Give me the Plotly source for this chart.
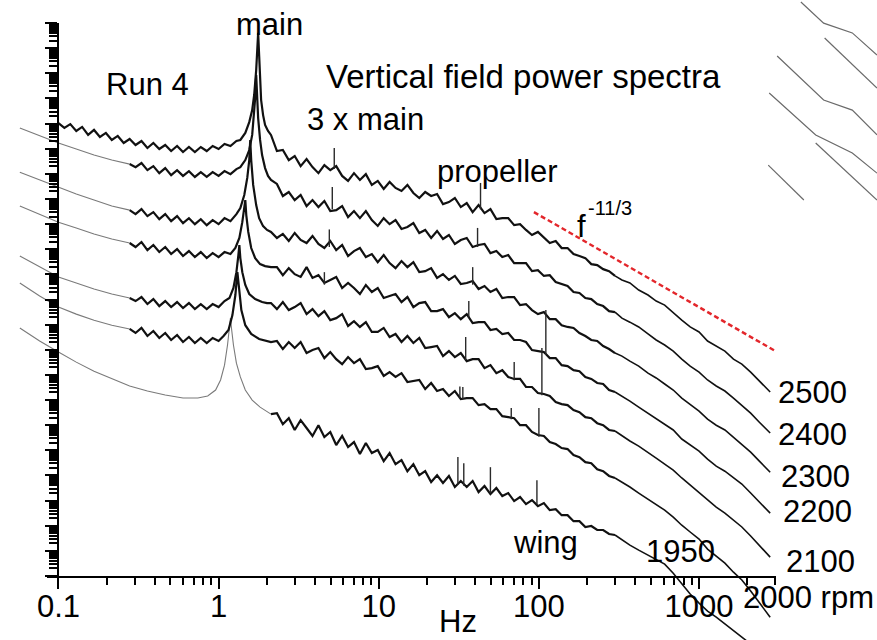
import plotly.graph_objects as go

# ---------------- data (frequency in Hz, level = log10 of power, arbitrary offset per run) ----
FREQ_HI = [2.124, 2.313, 2.519, 2.743, 2.987, 3.253, 3.543, 3.858, 4.201, 4.575, 4.982, 5.425,
           5.908, 6.433, 7.005, 7.628, 8.307, 9.054, 9.859, 10.74, 11.69, 12.73, 13.87, 15.10,
           16.45, 17.91, 19.50, 21.24, 23.13, 25.19, 27.43, 29.87, 32.53, 35.43, 38.58, 42.01,
           45.75, 49.82, 54.25, 59.08, 64.33, 70.05, 76.28, 83.07, 90.54, 98.59, 107.4, 116.9,
           127.3, 138.7, 151.0, 164.5, 179.1, 195.0, 212.4, 231.3, 251.9, 274.3, 298.7,
           330, 370, 420, 480, 540, 610, 690, 780, 880, 1000, 1130, 1280, 1450, 1640, 1850,
           2100, 2380, 2600, 2780]

A_HI = [17.56, 16.92, 16.96, 16.56, 16.72, 16.32, 16.60, 16.28, 16.04, 16.36, 16.16, 16.32, 15.93,
        15.73, 16.04, 15.77, 16.00, 15.57, 15.73, 15.41, 15.69, 15.45, 15.33, 15.57, 15.25, 15.05,
        15.29, 15.13, 15.21, 14.81, 14.89, 15.05, 14.69, 14.85, 14.49, 14.77, 14.45, 14.61, 14.21,
        14.25, 14.25, 13.97, 14.01, 13.78, 13.58, 13.70, 13.46, 13.26, 13.34, 13.06, 13.06, 12.82,
        12.74, 12.66, 12.42, 12.38, 12.22, 12.14, 11.95,
        11.79, 11.67, 11.39, 11.19, 10.95, 10.79, 10.47, 10.19, 9.92, 9.72, 9.36, 9.16, 8.96, 8.64,
        8.44, 8.12, 7.77, 7.53, 7.33]
B_HI = [15.77, 15.61, 15.13, 15.29, 14.97, 15.17, 14.73, 14.97, 14.69, 14.93, 14.53, 14.57, 14.73,
        14.29, 14.53, 14.25, 14.53, 14.17, 13.94, 14.25, 14.01, 14.17, 13.82, 13.90, 14.05, 13.66,
        13.78, 13.46, 13.74, 13.42, 13.58, 13.22, 13.38, 13.46, 13.10, 13.18, 13.22, 12.86, 12.94,
        12.70, 12.78, 12.46, 12.46, 12.46, 12.14, 12.18, 11.95, 11.98, 11.71, 11.63, 11.55, 11.31,
        11.27, 11.07, 11.03, 10.83, 10.75, 10.55, 10.51,
        10.27, 10.11, 9.92, 9.64, 9.40, 9.20, 8.96, 8.64, 8.36, 8.12, 7.81, 7.57, 7.37, 7.09, 6.81,
        6.49, 6.13, 5.90, 5.70]
C_HI = [13.70, 13.46, 13.62, 13.34, 13.66, 13.38, 13.26, 13.54, 13.22, 13.06, 13.34, 12.98, 13.18,
        12.74, 12.94, 13.06, 12.70, 12.82, 12.50, 12.78, 12.46, 12.26, 12.54, 12.30, 12.50, 12.10,
        12.14, 12.26, 11.87, 12.02, 11.79, 11.95, 11.63, 11.67, 11.75, 11.43, 11.55, 11.31, 11.43,
        11.07, 11.11, 11.11, 10.79, 10.83, 10.59, 10.43, 10.51, 10.23, 10.23, 9.99, 9.92, 9.88,
        9.68, 9.56, 9.40, 9.36, 9.16, 9.04, 8.88,
        8.76, 8.56, 8.36, 8.08, 7.89, 7.65, 7.41, 7.09, 6.85, 6.57, 6.25, 6.01, 5.82, 5.54, 5.26,
        4.94, 4.58, 4.34, 4.14]
D_HI = [12.30, 12.30, 11.98, 12.26, 12.02, 11.91, 12.30, 11.87, 11.98, 11.67, 11.79, 11.91, 11.47,
        11.67, 11.47, 11.23, 11.59, 11.31, 11.47, 11.07, 11.15, 11.23, 10.91, 11.11, 10.71, 10.87,
        10.91, 10.55, 10.55, 10.63, 10.31, 10.47, 10.23, 10.43, 10.07, 10.11, 10.11, 9.80, 9.84,
        9.64, 9.68, 9.40, 9.40, 9.32, 9.00, 8.96, 8.92, 8.68, 8.68, 8.40, 8.36, 8.20, 8.16, 7.93,
        7.85, 7.69, 7.65, 7.41, 7.33,
        7.17, 6.97, 6.73, 6.49, 6.29, 6.05, 5.82, 5.46, 5.22, 4.98, 4.66, 4.38, 4.18, 3.91, 3.67,
        3.31, 2.95, 2.71, 2.51]
E_HI = [10.87, 10.63, 10.91, 10.59, 10.71, 10.87, 10.43, 10.63, 10.35, 10.55, 10.19, 10.27, 10.43,
        9.96, 10.15, 9.92, 10.11, 9.72, 9.72, 9.88, 9.52, 9.64, 9.32, 9.56, 9.28, 9.48, 9.08, 9.12,
        9.16, 8.76, 8.96, 8.72, 8.88, 8.56, 8.64, 8.64, 8.28, 8.40, 8.08, 8.20, 7.93, 7.85, 7.85,
        7.53, 7.53, 7.29, 7.25, 7.17, 6.93, 6.85, 6.81, 6.61, 6.53, 6.33, 6.29, 6.09, 6.01, 5.82,
        5.78,
        5.58, 5.38, 5.18, 4.94, 4.70, 4.46, 4.22, 3.91, 3.63, 3.35, 3.03, 2.75, 2.51, 2.23, 1.96,
        1.60, 1.24, 0.96, 0.76]
F_HI = [9.32, 9.36, 9.04, 9.32, 9.08, 9.32, 8.88, 9.00, 9.08, 8.68, 8.92, 8.64, 8.44, 8.72, 8.48,
        8.64, 8.24, 8.28, 8.36, 7.97, 8.12, 7.93, 8.08, 7.73, 7.77, 7.81, 7.45, 7.69, 7.37, 7.45,
        7.17, 7.37, 7.05, 7.09, 7.09, 6.81, 6.85, 6.65, 6.65, 6.37, 6.33, 6.29, 6.01, 6.01, 5.74,
        5.62, 5.58, 5.34, 5.26, 5.10, 5.06, 4.82, 4.74, 4.54, 4.50, 4.26, 4.18, 3.99, 3.91,
        3.75, 3.55, 3.31, 3.07, 2.87, 2.63, 2.35, 2.03, 1.76, 1.48, 1.08, 0.80, 0.52, 0.16, -0.15,
        -0.59, -1.07, -1.39, -1.63]
G_HI = [6.45, 6.49, 6.05, 6.29, 5.82, 6.21, 5.90, 5.58, 6.01, 5.54, 5.74, 5.22, 5.58, 5.14, 5.34,
        4.86, 5.30, 4.90, 5.02, 4.58, 4.90, 4.46, 4.62, 4.18, 4.46, 4.02, 4.18, 3.75, 4.02, 3.71,
        3.99, 3.55, 3.79, 3.55, 3.79, 3.35, 3.59, 3.27, 3.51, 3.19, 3.31, 2.99, 3.15, 2.87, 3.03,
        2.79, 2.91, 2.63, 2.67, 2.43, 2.43, 2.19, 2.19, 1.96, 2.00, 1.84, 1.84, 1.68, 1.64,
        1.44, 1.24, 1.04, 0.84, 0.68, 0.48, 0.12, -0.31, -0.71, -1.07, -1.39, -1.63, -1.91, -2.18,
        -2.42, -2.70, -3.02, -3.22, -3.38]

# 2500 rpm low-frequency part (starts at 0.1 Hz) with the main-rotor peak
A_LO_F = [0.1, 0.1089, 0.1186, 0.1292, 0.1406, 0.1532, 0.1668, 0.1816, 0.1978, 0.2154, 0.2346,
          0.2555, 0.2783, 0.303, 0.33, 0.3594, 0.3914, 0.4262, 0.4642, 0.5055, 0.5505, 0.5995,
          0.6529, 0.711, 0.7743, 0.8432, 0.9183, 1.0, 1.089, 1.186, 1.292, 1.367, 1.468, 1.554,
          1.621, 1.668, 1.717, 1.741, 1.766, 1.791, 1.816, 1.843, 1.896, 1.951, 2.035]
A_LO_L = [18.03, 17.84, 17.99, 17.72, 17.88, 17.56, 17.76, 17.48, 17.64, 17.36, 17.52, 17.24,
          17.40, 17.16, 17.32, 17.04, 17.24, 17.00, 17.16, 16.92, 17.12, 16.88, 17.08, 16.88,
          17.08, 16.92, 17.12, 17.00, 17.20, 17.12, 17.32, 17.36, 17.64, 18.07, 18.55, 19.15,
          20.14, 20.94, 21.62, 20.74, 19.75, 18.95, 18.35, 17.96, 17.72]

# smooth very-low-frequency parts (grey)
GREY_F = [0.0574, 0.0763, 0.1, 0.1292, 0.1668, 0.2154, 0.2783]
B_GREY_L = [17.84, 17.52, 17.24, 17.00, 16.76, 16.56, 16.40]
C_GREY_L = [16.08, 15.77, 15.49, 15.21, 14.97, 14.73, 14.57]
D_GREY_L = [14.73, 14.41, 14.09, 13.86, 13.62, 13.42, 13.26]
E_GREY_L = [12.74, 12.30, 11.91, 11.67, 11.43, 11.23, 11.07]
F_GREY_L = [11.67, 11.15, 10.71, 10.43, 10.19, 9.99, 9.84]

# noisy part below ~2 Hz incl. main-rotor peak
B_MID_F = [0.2783, 0.303, 0.33, 0.3594, 0.3914, 0.4262, 0.4642, 0.5055, 0.5505, 0.5995, 0.6529,
           0.711, 0.7743, 0.8432, 0.9183, 1.0, 1.089, 1.186, 1.292, 1.367, 1.468, 1.554, 1.621,
           1.668, 1.692, 1.717, 1.741, 1.766, 1.816, 1.869, 1.951, 2.035]
B_MID_L = [16.40, 16.28, 16.44, 16.16, 16.32, 16.04, 16.24, 15.96, 16.16, 15.93, 16.12, 15.89,
           16.08, 15.89, 16.08, 15.93, 16.12, 16.00, 16.20, 16.28, 16.56, 16.96, 17.56, 18.35,
           19.03, 19.94, 19.15, 18.23, 17.36, 16.76, 16.24, 15.93]
C_MID_F = [0.2783, 0.303, 0.33, 0.3594, 0.3914, 0.4262, 0.4642, 0.5055, 0.5505, 0.5995, 0.6529,
           0.711, 0.7743, 0.8432, 0.9183, 1.0, 1.089, 1.186, 1.292, 1.367, 1.447, 1.51, 1.554,
           1.576, 1.598, 1.644, 1.717, 1.791, 1.896, 2.007]
C_MID_L = [14.57, 14.41, 14.61, 14.33, 14.49, 14.21, 14.41, 14.13, 14.33, 14.05, 14.25, 14.01,
           14.21, 13.97, 14.17, 14.01, 14.25, 14.13, 14.41, 14.65, 15.17, 15.85, 16.56, 17.36,
           16.56, 15.57, 14.77, 14.25, 13.93, 13.78]
D_MID_F = [0.2783, 0.303, 0.33, 0.3594, 0.3914, 0.4262, 0.4642, 0.5055, 0.5505, 0.5995, 0.6529,
           0.711, 0.7743, 0.8432, 0.9183, 1.0, 1.089, 1.186, 1.273, 1.348, 1.406, 1.447, 1.468,
           1.489, 1.532, 1.598, 1.692, 1.816, 1.951]
D_MID_L = [13.26, 13.10, 13.30, 12.98, 13.18, 12.90, 13.10, 12.82, 13.02, 12.74, 12.94, 12.70,
           12.90, 12.66, 12.86, 12.70, 12.90, 12.82, 13.06, 13.46, 14.09, 14.77, 14.97, 14.37,
           13.70, 13.06, 12.66, 12.42, 12.34]
E_MID_F = [0.2783, 0.303, 0.33, 0.3594, 0.3914, 0.4262, 0.4642, 0.5055, 0.5505, 0.5995, 0.6529,
           0.711, 0.7743, 0.8432, 0.9183, 1.0, 1.089, 1.169, 1.238, 1.292, 1.329, 1.348, 1.367,
           1.406, 1.468, 1.554, 1.692, 1.869, 2.007]
E_MID_L = [11.07, 10.95, 11.11, 10.83, 11.03, 10.75, 10.95, 10.71, 10.91, 10.67, 10.87, 10.63,
           10.83, 10.63, 10.83, 10.71, 10.95, 11.07, 11.47, 12.10, 12.78, 13.18, 12.66, 12.10,
           11.59, 11.23, 11.03, 10.91, 10.87]
F_MID_F = [0.2783, 0.303, 0.33, 0.3594, 0.3914, 0.4262, 0.4642, 0.5055, 0.5505, 0.5995, 0.6529,
           0.711, 0.7743, 0.8432, 0.9183, 1.0, 1.074, 1.153, 1.22, 1.273, 1.31, 1.348, 1.387,
           1.468, 1.598, 1.791, 2.007]
F_MID_L = [9.84, 9.68, 9.88, 9.56, 9.76, 9.48, 9.68, 9.40, 9.60, 9.32, 9.52, 9.28, 9.48, 9.28,
           9.48, 9.36, 9.56, 9.80, 10.39, 11.19, 12.10, 11.31, 10.59, 9.99, 9.64, 9.44, 9.36]

# 1950 rpm: smooth grey low-frequency part and peak
G_GREY_F = [0.0574, 0.0763, 0.1, 0.1292, 0.1668, 0.2154, 0.2783, 0.3594, 0.4642, 0.5995, 0.742,
            0.855, 0.958, 1.029, 1.089, 1.137, 1.169, 1.186, 1.203, 1.238, 1.292, 1.367, 1.468,
            1.621, 1.816, 2.007, 2.124]
G_GREY_L = [9.88, 9.36, 8.92, 8.52, 8.16, 7.85, 7.57, 7.37, 7.21, 7.09, 7.09, 7.17, 7.41, 7.81,
            8.40, 9.20, 9.88, 10.27, 9.88, 9.20, 8.48, 7.93, 7.41, 7.01, 6.73, 6.57, 6.45]

# narrow lines (3 x main, propeller, wing harmonics)
SPIKE_F = [5.275, 43.2, 5.128, 41.4, 4.914, 38.6, 4.577, 36.5, 110.5, 34.9, 70.1, 104.4,
           32.1, 33.5, 67.2, 100.0, 31.2, 33.96, 49.8, 97.2]
SPIKE_LO = [16.20, 14.60, 14.60, 13.10, 13.10, 11.60, 11.60, 10.30, 8.80, 8.60, 7.80, 7.20,
            7.10, 7.05, 6.25, 5.55, 3.65, 3.60, 3.30, 2.85]
SPIKE_HI = [17.04, 15.65, 15.49, 13.86, 13.80, 12.30, 12.10, 10.95, 10.59, 9.52, 8.52, 9.08,
            7.55, 7.53, 6.69, 6.69, 4.74, 4.50, 4.34, 3.82]

# reference slope f^-11/3
REF_F = [93.1, 3030]
REF_L = [14.49, 8.94]

# fragments of further traces at top right
X_SEG_F = [[4323, 5995, 9055, 12915], [6083, 12915], [3074, 5995, 9055, 12915],
           [2742, 5350, 9055, 12915], [5350, 12915], [2704, 4512]]
X_SEG_L = [[22.85, 22.01, 21.62, 20.74], [21.42, 19.43], [20.70, 18.95, 18.55, 17.56],
           [19.23, 17.56, 16.84, 16.04], [17.24, 14.97], [16.36, 14.97]]

RPM_LABELS = ["2500", "2400", "2300", "2200", "2100"]
X_TICKS = [0.1, 1, 10, 100, 1000]
X_TICK_TEXT = ["0.1", "1", "10", "100", "1000"]
X_MINOR = [m * d for d in (0.1, 1, 10, 100) for m in range(2, 10)] + [2000, 3000]

# ---------------- figure ----------------
W, H = 877, 640
FONT = "Liberation Sans, Arial, sans-serif"
BLACK = "#111111"
GREY = "#7a7a7a"
NOISY_END = 59          # points of FREQ_HI in the dense-noise band (up to ~300 Hz)

def P(levels):
    return [10 ** v for v in levels]

fig = go.Figure()

def line(f, lv, color, width, dash=None):
    fig.add_trace(go.Scatter(x=f, y=P(lv), mode="lines",
                             line=dict(color=color, width=width, dash=dash),
                             hoverinfo="skip", showlegend=False))

# grey low-frequency parts
for gl in (B_GREY_L, C_GREY_L, D_GREY_L, E_GREY_L, F_GREY_L):
    line(GREY_F, gl, GREY, 1.1)
line(G_GREY_F, G_GREY_L, GREY, 1.1)

# black spectra: noisy band drawn bolder, smooth high-frequency tail thinner
def spectrum(lo_f, lo_l, hi_l):
    line(lo_f + FREQ_HI[:NOISY_END], lo_l + hi_l[:NOISY_END], BLACK, 2.2)
    line(FREQ_HI[NOISY_END - 1:], hi_l[NOISY_END - 1:], BLACK, 1.6)

spectrum(A_LO_F, A_LO_L, A_HI)
spectrum(B_MID_F, B_MID_L, B_HI)
spectrum(C_MID_F, C_MID_L, C_HI)
spectrum(D_MID_F, D_MID_L, D_HI)
spectrum(E_MID_F, E_MID_L, E_HI)
spectrum(F_MID_F, F_MID_L, F_HI)
spectrum([], [], G_HI)

# spikes
sx, sy = [], []
for f, lo, hi in zip(SPIKE_F, SPIKE_LO, SPIKE_HI):
    sx += [f, f, None]
    sy += [10 ** lo, 10 ** hi, None]
fig.add_trace(go.Scatter(x=sx, y=sy, mode="lines", line=dict(color="#2a2a2a", width=1.4),
                         hoverinfo="skip", showlegend=False))

# extra fragments top right
for sf, sl in zip(X_SEG_F, X_SEG_L):
    line(sf, sl, "#6a6a6a", 1.2)

# reference slope
line(REF_F, REF_L, "#e3262b", 2.4, dash="5px,3px")

# dummy trace so that the visible frame axes exist
fig.add_trace(go.Scatter(x=[1], y=[1], xaxis="x2", yaxis="y2", mode="markers",
                         marker=dict(opacity=0), hoverinfo="skip", showlegend=False))

def px2x(px):
    return -1 + (px - 49) / 162.0

fig.update_layout(
    width=W, height=H, margin=dict(l=0, r=0, t=0, b=0),
    paper_bgcolor="white", plot_bgcolor="rgba(0,0,0,0)",
    xaxis=dict(type="log", range=[px2x(0), px2x(W)], domain=[0, 1], visible=False),
    yaxis=dict(type="log", range=[22.93 - 640 / 25.13, 22.93], domain=[0, 1], visible=False),
    xaxis2=dict(type="log", domain=[37 / W, 775 / W], range=[px2x(37), px2x(775)],
                anchor="y2", showline=True, linecolor="black", linewidth=2,
                ticks="outside", ticklen=11, tickwidth=2, tickcolor="black",
                tickvals=X_TICKS, ticktext=X_TICK_TEXT, ticklabelstandoff=-9,
                tickfont=dict(family=FONT, size=31, color="black"),
                minor=dict(ticks="outside", ticklen=7, tickwidth=1.6, tickcolor="black",
                           tickvals=X_MINOR),
                showgrid=False, zeroline=False),
    yaxis2=dict(type="log", domain=[(H - 576) / H, (H - 23) / H], range=[0, 22],
                anchor="free", position=49 / W, showline=True, linecolor="black", linewidth=2,
                ticks="outside", ticklen=12, tickwidth=2.2, tickcolor="black", dtick=1,
                showticklabels=False,
                minor=dict(ticks="outside", ticklen=8, tickwidth=1.8, tickcolor="black", dtick="D1"),
                showgrid=False, zeroline=False),
)

def label(text, px, py_base, anchor="left", size=31):
    fig.add_annotation(text=text, xref="paper", yref="paper", x=px / W,
                       y=1 - (py_base - 0.345 * size) / H, xanchor=anchor, yanchor="middle",
                       showarrow=False, font=dict(family=FONT, size=size, color="black"))

label("main", 262, 35, "center")
label("Vertical field power spectra", 318, 88, size=33)
label("Run 4", 95, 95)
label("3 x main", 298, 130)
label("propeller", 430, 182)
label("f", 572, 237, size=31)
label("-11/3", 583, 215, size=20)
label("wing", 507, 553)
label("1950", 641, 562)
for t, x0, yb in zip(RPM_LABELS, [775, 775, 778, 780, 783], [403, 445, 487, 522, 572]):
    label(t, x0, yb)
label("2000 rpm", 739, 608)
label("Hz", 453, 632, "center")

fig.write_html("out.html", config={"displayModeBar": False},
               post_script="document.body.style.margin='0px';document.body.style.padding='0px';")
